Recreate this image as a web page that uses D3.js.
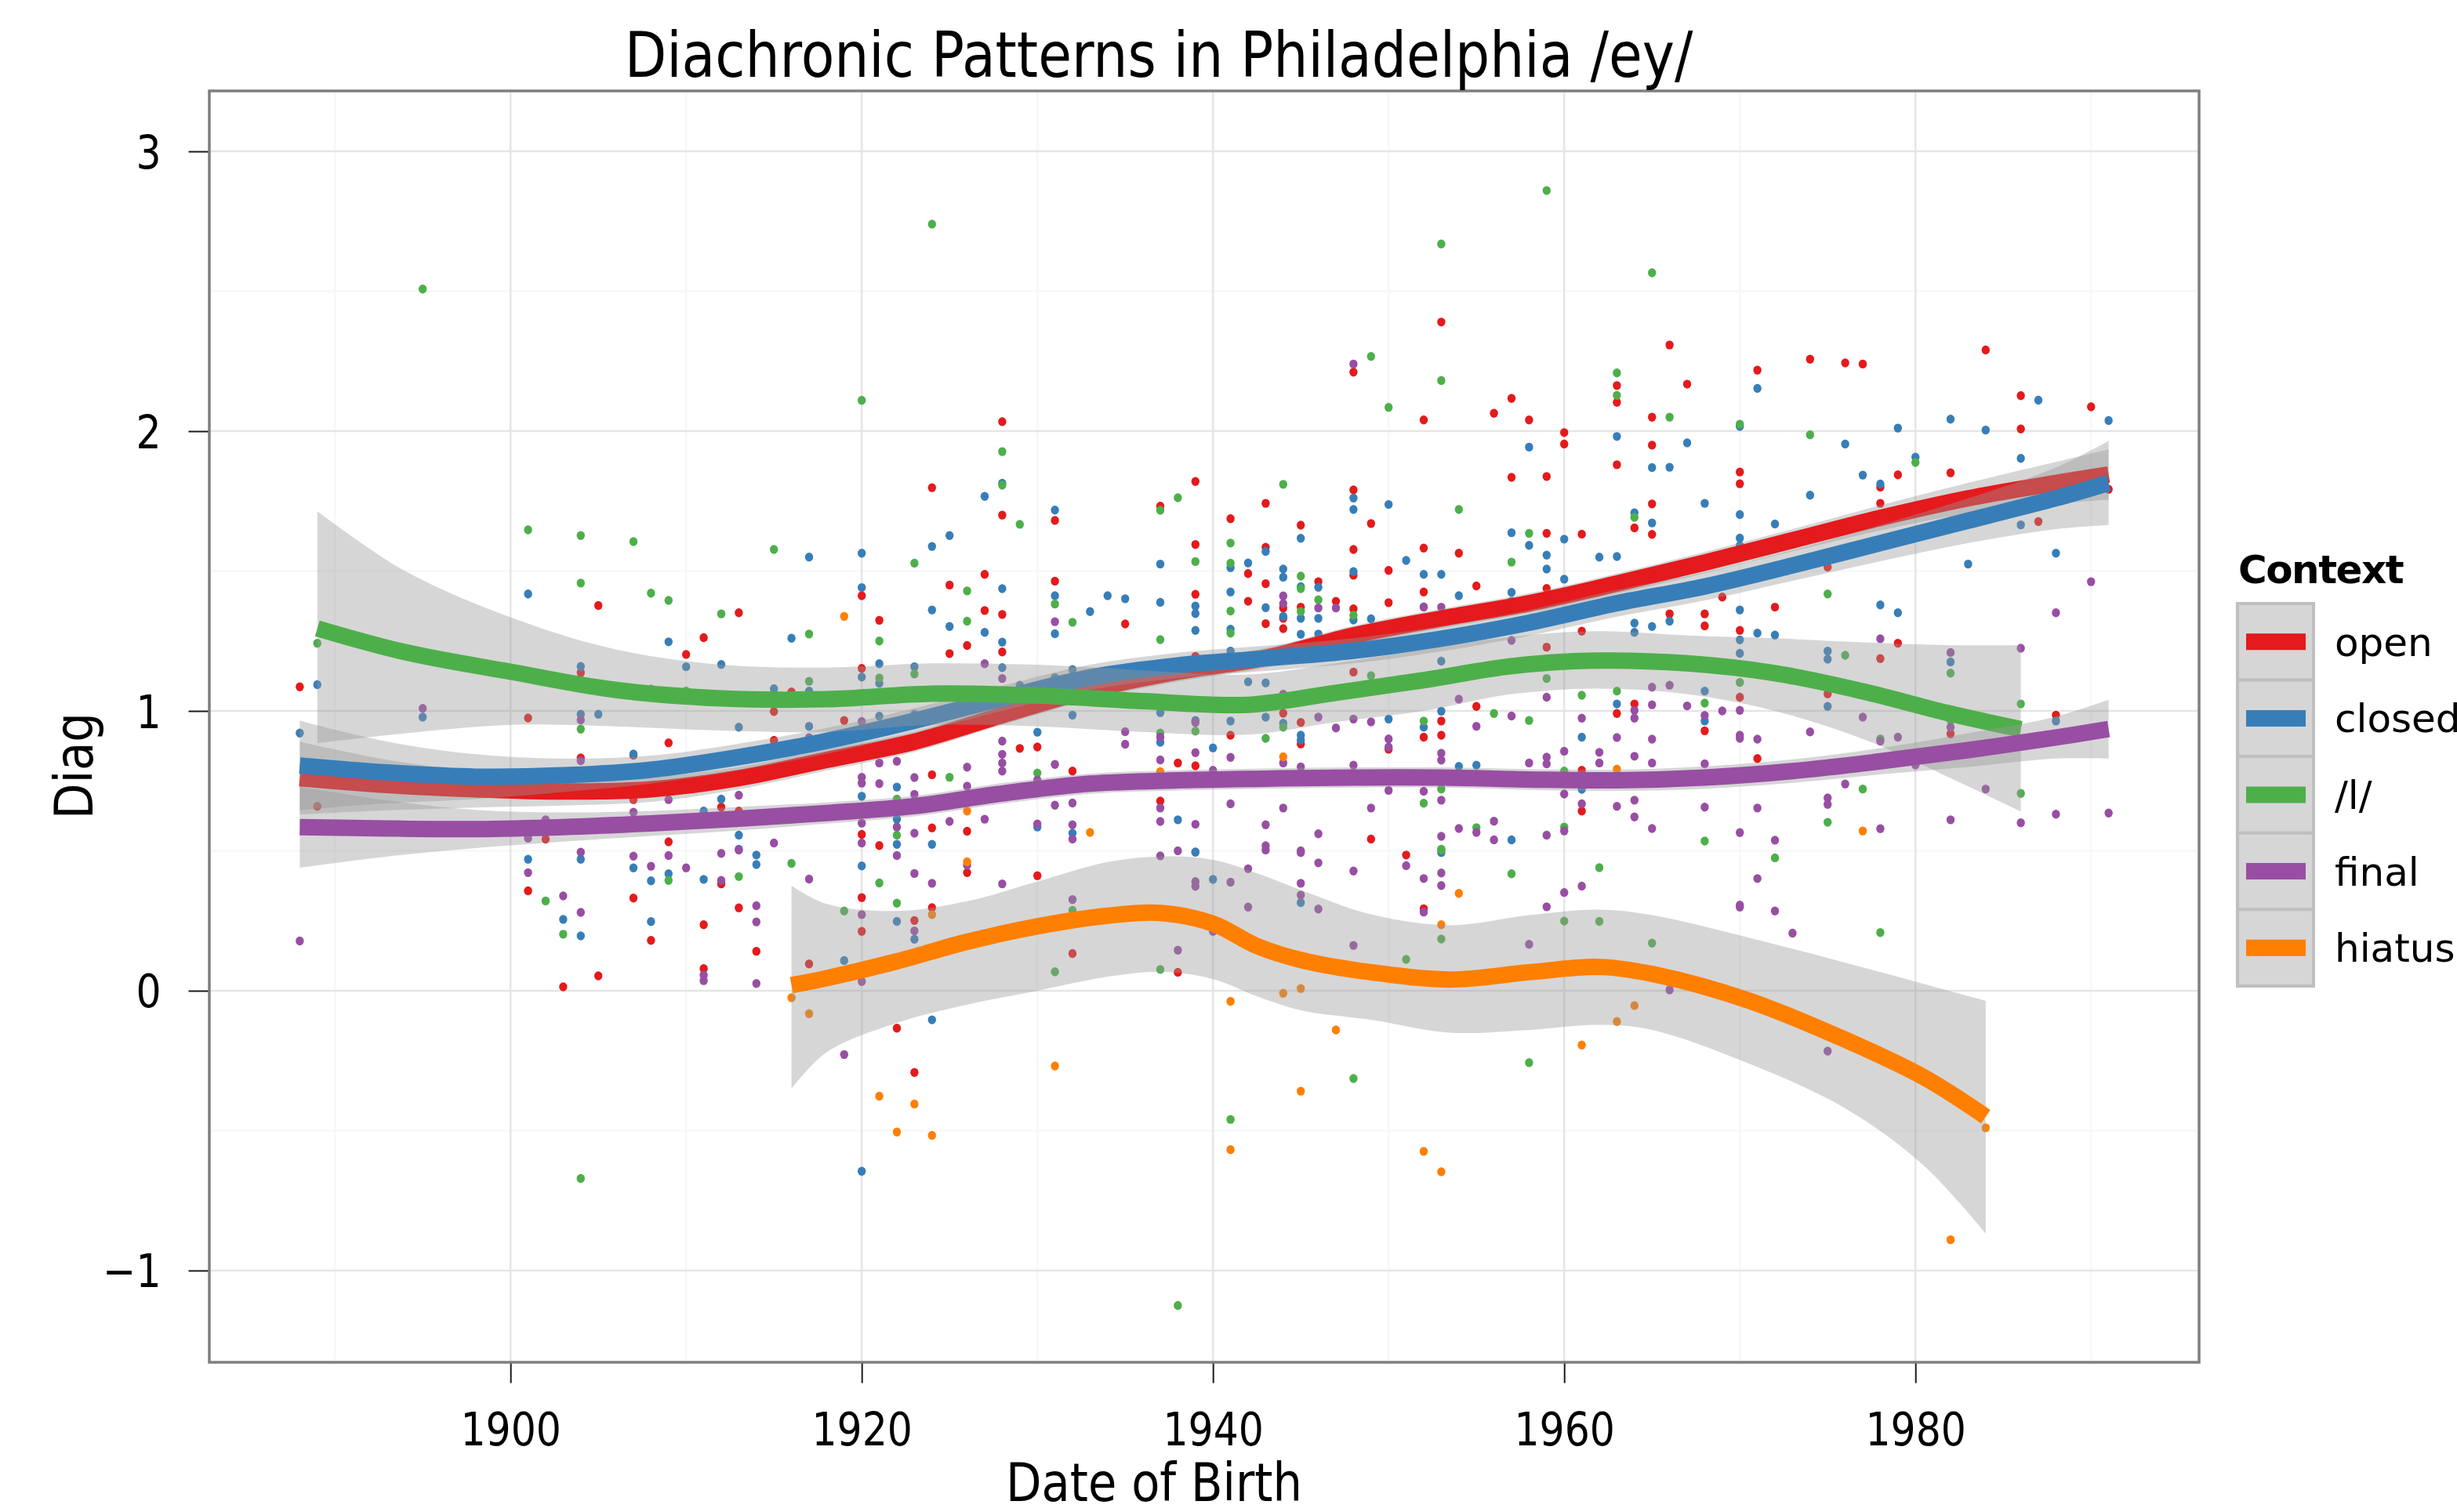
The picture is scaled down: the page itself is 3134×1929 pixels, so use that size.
<!DOCTYPE html>
<html><head><meta charset="utf-8">
<script src="https://cdn.jsdelivr.net/npm/d3@7"></script>
<style>body{margin:0;background:#fff} svg{display:block}</style>
</head><body>
<svg id="c" width="3134" height="1929"></svg>
<script>
// ---------------- DATA ----------------
const contexts = ["open", "closed", "/l/", "final", "hiatus"];
const colors = ["#E41A1C", "#377EB8", "#4DAF4A", "#984EA3", "#FF7F00"];
const xTicks = [1900, 1920, 1940, 1960, 1980];
const yTicks = [-1, 0, 1, 2, 3];
const titleText = "Diachronic Patterns in Philadelphia /ey/";
const xTitle = "Date of Birth";
const yTitle = "Diag";
const legendTitle = "Context";

// points: [year, [values...]]
const pointsOpen = [[1888,[1.086]],[1889,[0.659]],[1901,[0.975,0.357]],[1902,[0.542]],[1903,[0.014]],[1904,[1.137,0.832]],[1905,[1.377,0.053]],[1907,[0.842,0.683,0.331]],[1908,[0.18]],[1909,[0.886,0.532]],[1910,[1.202]],[1911,[1.262,0.236,0.079]],[1912,[0.656,0.382]],[1913,[1.351,0.642,0.296]],[1914,[0.141]],[1915,[0.998,0.895]],[1916,[1.068]],[1917,[0.096]],[1919,[0.966]],[1920,[1.412,1.152,0.559,0.333,0.212]],[1921,[1.324,0.519]],[1922,[0.885,-0.134]],[1923,[0.251,-0.292]],[1924,[1.798,0.772,0.582,0.297]],[1925,[1.45,1.205]],[1926,[1.234,0.57,0.422]],[1927,[1.488,1.359]],[1928,[2.034,1.70,1.345,1.211]],[1929,[0.866]],[1930,[0.871,0.411]],[1931,[1.681,1.464]],[1932,[0.785,0.133]],[1935,[1.311]],[1937,[1.732,0.678]],[1938,[0.814,0.066]],[1939,[1.82,1.595,1.417,1.195,0.804]],[1941,[1.687,0.913]],[1942,[1.491,1.392]],[1943,[1.742,1.585,1.455,1.312]],[1944,[1.368,1.331,1.294,0.992]],[1945,[1.664,1.371,0.959,0.882]],[1946,[1.462]],[1947,[1.392]],[1948,[2.211,1.79,1.577,1.485,1.365,1.139]],[1949,[1.67,0.542]],[1950,[1.502,1.387,0.863]],[1951,[1.317,0.485]],[1952,[2.04,1.582,1.425,0.906,0.293]],[1953,[2.39,0.964,0.913]],[1954,[1.564]],[1955,[1.447,1.016]],[1956,[2.064]],[1957,[2.117,1.835]],[1958,[2.04]],[1959,[1.838,1.635,1.438,1.228]],[1960,[1.995,1.954]],[1961,[1.632,1.285,0.788,0.642]],[1963,[2.163,2.103,1.88,0.991]],[1964,[1.654,1.025]],[1965,[2.05,1.95,1.74,1.631]],[1966,[2.308,1.347]],[1967,[2.168]],[1968,[1.347,1.304,0.929]],[1969,[1.407]],[1970,[1.854,1.812,1.288,1.049]],[1971,[2.218,0.83]],[1972,[1.371]],[1974,[2.257]],[1975,[1.514,1.061]],[1976,[2.244]],[1977,[2.24]],[1978,[1.8,1.742,1.187]],[1979,[1.844,1.242]],[1982,[1.851,0.918]],[1984,[2.29]],[1986,[2.127,2.008]],[1987,[1.677]],[1988,[0.985]],[1990,[2.087]],[1991,[1.792]]];
const pointsClosed = [[1888,[0.921]],[1889,[1.094]],[1895,[0.978]],[1901,[1.418,0.47]],[1903,[0.255]],[1904,[1.159,0.988,0.47,0.196]],[1905,[0.988]],[1907,[0.846,0.439]],[1908,[0.393,0.247]],[1909,[1.247,0.418]],[1910,[1.158]],[1911,[0.642,0.398]],[1912,[1.166,0.685]],[1913,[0.942,0.556,0.506]],[1914,[0.485,0.451]],[1915,[1.079]],[1916,[1.26]],[1917,[1.55,1.071,0.945]],[1919,[0.108]],[1920,[1.564,1.441,1.121,0.695,0.446,-0.645]],[1921,[1.169,1.099,0.981]],[1922,[0.728,0.613,0.523,0.248]],[1923,[1.158,0.988,0.184]],[1924,[1.588,1.361,0.523,-0.104]],[1925,[1.627,1.302]],[1927,[1.767,1.281]],[1928,[1.814,1.437,1.246,1.155]],[1929,[1.092]],[1930,[0.924,0.585]],[1931,[1.718,1.412,1.276,1.119]],[1932,[1.148,0.985,0.563]],[1933,[1.355]],[1934,[1.412]],[1935,[1.401]],[1937,[1.525,1.388,0.994,0.888]],[1938,[0.611]],[1939,[1.375,1.348,1.288,0.966,0.496,0.495]],[1940,[0.868,0.398]],[1941,[1.512,1.425,1.292,1.214,0.964]],[1942,[1.529,1.104]],[1943,[1.57,1.369,1.1,0.978]],[1944,[1.507,1.478,1.338,0.956]],[1945,[1.617,1.444,1.331,1.274,0.913,0.896,0.315]],[1946,[1.442,1.331,1.275]],[1948,[1.761,1.72,1.498,1.325,1.284]],[1949,[1.329]],[1950,[1.738,0.971]],[1951,[1.538]],[1952,[1.488,0.942]],[1953,[1.488,1.178,0.999,0.494]],[1954,[1.412,0.802]],[1955,[0.806]],[1957,[1.637,1.424,1.392,0.539]],[1958,[1.943,1.592]],[1959,[1.557,1.507]],[1960,[1.614,1.471]],[1961,[0.906,0.72]],[1962,[1.55]],[1963,[1.981,1.552,1.025]],[1964,[1.708,1.314,1.281]],[1965,[1.87,1.672,1.302]],[1966,[1.871,1.321]],[1967,[1.958]],[1968,[1.742,1.071,0.964]],[1970,[2.017,1.702,1.618,1.591,1.361,1.254,1.206]],[1971,[2.153,1.278]],[1972,[1.668,1.271]],[1974,[1.771]],[1975,[1.214,1.185,1.016]],[1976,[1.954]],[1977,[1.843]],[1978,[1.811,1.691,1.379]],[1979,[2.011,1.351]],[1980,[1.907]],[1982,[2.043,1.175]],[1983,[1.525]],[1984,[2.004]],[1986,[1.903,1.665]],[1987,[2.111]],[1988,[1.564,0.964]],[1991,[2.038]]];
const pointsL = [[1889,[1.242]],[1895,[2.508]],[1901,[1.647]],[1902,[0.321]],[1903,[0.202]],[1904,[1.627,1.457,0.935,-0.671]],[1907,[1.605]],[1908,[1.421]],[1909,[1.395,0.394]],[1910,[1.071]],[1912,[1.347]],[1913,[0.408]],[1915,[1.577]],[1916,[0.455]],[1917,[1.275,1.106]],[1919,[0.285]],[1920,[2.11]],[1921,[1.25,1.118,0.385]],[1922,[0.685,0.556,0.313]],[1923,[1.528,1.132]],[1924,[2.74]],[1925,[0.763]],[1926,[1.429,1.321]],[1928,[1.927,1.807]],[1929,[1.667]],[1930,[0.778]],[1931,[1.382,0.068]],[1932,[1.317,0.287]],[1937,[1.717,1.255,0.921,0.076]],[1938,[1.762,-1.125]],[1939,[1.534,0.928]],[1941,[1.6,1.528,1.357,1.278,-0.46]],[1943,[0.902]],[1944,[1.81,0.942]],[1945,[1.482,1.437,1.355]],[1946,[1.397]],[1948,[1.342,-0.314]],[1949,[2.267,1.126]],[1950,[2.085]],[1951,[0.112]],[1952,[1.372,0.964,0.67]],[1953,[2.669,2.181,0.721,0.506,0.503,0.185]],[1954,[1.72]],[1955,[0.583]],[1956,[0.991]],[1957,[1.532,0.418]],[1958,[1.635,0.966,-0.257]],[1959,[2.86,1.116]],[1960,[0.785,0.585,0.249]],[1961,[1.056]],[1962,[0.44,0.248]],[1963,[2.208,2.128,1.071]],[1964,[1.692]],[1965,[2.566,0.17]],[1966,[2.05]],[1968,[1.028,0.535]],[1970,[2.025,1.102]],[1972,[0.475]],[1974,[1.987]],[1975,[1.418,0.602]],[1976,[1.199]],[1977,[0.721]],[1978,[0.9,0.208]],[1980,[1.888]],[1982,[1.135,0.966]],[1986,[1.025,0.705]]];
const pointsFinal = [[1888,[0.178]],[1895,[1.009]],[1901,[0.545,0.422]],[1902,[0.611]],[1903,[0.339]],[1904,[0.968,0.822,0.495,0.28]],[1907,[0.638,0.481]],[1908,[1.078,0.445]],[1909,[0.683,0.483]],[1910,[0.439]],[1911,[0.056,0.036]],[1912,[0.491,0.394]],[1913,[0.699,0.503]],[1914,[0.304,0.246,0.026]],[1915,[0.528]],[1916,[0.878]],[1917,[0.904,0.399]],[1919,[-0.228]],[1920,[0.962,0.763,0.742,0.599,0.528,0.272,0.033]],[1921,[0.814,0.74]],[1922,[0.82,0.642,0.585,0.483]],[1923,[0.762,0.702,0.563,0.419,0.214]],[1924,[0.384]],[1925,[0.605]],[1926,[0.799,0.731,0.449]],[1927,[1.169,0.613]],[1928,[1.116,0.892,0.845,0.814,0.785,0.382]],[1930,[0.753,0.596]],[1931,[1.319,0.809,0.663]],[1932,[0.671,0.593,0.542,0.326]],[1935,[0.926,0.881]],[1937,[0.906,0.825,0.653,0.605,0.482]],[1938,[0.5,0.145]],[1939,[0.959,0.851,0.595,0.39,0.373]],[1940,[0.788,0.212]],[1941,[0.834,0.668,0.388]],[1942,[0.436,0.299]],[1943,[0.593,0.518,0.503]],[1944,[1.411,1.384,1.06,0.814,0.653]],[1945,[0.8,0.5,0.494,0.384,0.342]],[1946,[1.368,0.978,0.561,0.457,0.292]],[1947,[1.368,0.939]],[1948,[2.24,0.971,0.806,0.428,0.162]],[1949,[0.961,0.653]],[1950,[0.9,0.871,0.716]],[1951,[0.447]],[1952,[1.371,0.713,0.401,0.281]],[1953,[1.371,0.849,0.824,0.681,0.552,0.421,0.376]],[1954,[1.042,0.58]],[1955,[0.945,0.566]],[1956,[0.606,0.539]],[1957,[1.252,0.982]],[1958,[0.814,0.166]],[1959,[1.049,0.835,0.811,0.556,0.30]],[1960,[0.856,0.703,0.571,0.351]],[1961,[0.974,0.668,0.374]],[1962,[0.852,0.814]],[1963,[0.905,0.659]],[1964,[1.002,0.974,0.838,0.681,0.621]],[1965,[1.085,1.022,0.899,0.814,0.58]],[1966,[1.092,0.003]],[1967,[1.018]],[1968,[0.984,0.811,0.656]],[1969,[1.0]],[1970,[1.002,0.913,0.902,0.565,0.306,0.299]],[1971,[0.899,0.653,0.401]],[1972,[0.538,0.285]],[1973,[0.206]],[1974,[0.925]],[1975,[0.689,0.666,-0.216]],[1976,[0.739]],[1977,[0.978]],[1978,[1.258,0.892,0.579]],[1979,[0.906]],[1980,[0.807]],[1982,[1.209,0.942,0.611]],[1984,[0.721]],[1986,[1.224,0.6]],[1988,[1.351,0.631]],[1990,[1.462]],[1991,[0.635]]];
const pointsHiatus = [[1916,[-0.025]],[1917,[-0.082]],[1919,[1.338]],[1921,[-0.377]],[1922,[-0.505]],[1923,[-0.405]],[1924,[0.272,-0.517]],[1926,[0.642,0.461]],[1931,[-0.269]],[1933,[0.566]],[1937,[0.783]],[1941,[-0.038,-0.568]],[1944,[0.836,-0.009]],[1945,[0.008,-0.359]],[1947,[-0.14]],[1952,[-0.574]],[1953,[0.236,-0.647]],[1954,[0.348]],[1961,[-0.194]],[1963,[0.792,-0.11]],[1964,[-0.053]],[1977,[0.571]],[1982,[-0.89]],[1984,[-0.49]]];

// smooth fits (loess)
const openYears  = [1888,1893,1898,1903,1908,1913,1918,1923,1928,1933,1938,1943,1948,1953,1958,1963,1968,1973,1978,1983,1988,1991];
const openFit    = [0.76,0.735,0.72,0.712,0.72,0.76,0.825,0.89,0.985,1.075,1.14,1.19,1.27,1.33,1.385,1.455,1.53,1.61,1.69,1.76,1.815,1.845];
const openLo     = [0.63,0.645,0.655,0.662,0.675,0.72,0.787,0.854,0.95,1.04,1.105,1.155,1.235,1.295,1.35,1.419,1.492,1.57,1.645,1.705,1.74,1.755];
const openHi     = [0.89,0.825,0.785,0.762,0.765,0.80,0.863,0.926,1.02,1.11,1.175,1.225,1.305,1.365,1.42,1.491,1.568,1.65,1.735,1.815,1.89,1.935];
const closedYears= [1888,1893,1898,1903,1908,1913,1918,1923,1928,1933,1938,1943,1948,1953,1958,1963,1968,1973,1978,1983,1988,1991];
const closedFit  = [0.805,0.78,0.765,0.77,0.79,0.835,0.893,0.965,1.045,1.12,1.163,1.188,1.215,1.258,1.315,1.385,1.445,1.52,1.60,1.68,1.76,1.815];
const closedLo   = [0.645,0.67,0.685,0.71,0.74,0.787,0.847,0.92,1.0,1.075,1.118,1.143,1.17,1.213,1.269,1.337,1.395,1.465,1.535,1.6,1.65,1.665];
const closedHi   = [0.965,0.89,0.845,0.83,0.84,0.883,0.939,1.01,1.09,1.165,1.208,1.233,1.26,1.303,1.361,1.433,1.495,1.575,1.665,1.76,1.87,1.965];
const lYears     = [1889,1894,1900,1906,1912,1918,1924,1930,1936,1942,1947,1952,1957,1962,1967,1972,1977,1982,1986];
const lFit       = [1.295,1.21,1.14,1.075,1.045,1.042,1.062,1.055,1.035,1.022,1.065,1.11,1.16,1.18,1.17,1.135,1.07,0.99,0.935];
const lLo        = [0.885,0.92,0.95,0.945,0.93,0.925,0.95,0.945,0.925,0.915,0.96,1.0,1.06,1.08,1.06,1.0,0.9,0.76,0.64];
const lHi        = [1.714,1.50,1.335,1.22,1.165,1.155,1.17,1.165,1.145,1.13,1.17,1.22,1.265,1.285,1.27,1.26,1.245,1.235,1.235];
const finalYears = [1888,1893,1898,1903,1908,1913,1918,1923,1928,1933,1938,1943,1948,1953,1958,1963,1968,1973,1978,1983,1988,1991];
const finalFit   = [0.585,0.58,0.578,0.585,0.598,0.615,0.635,0.66,0.705,0.74,0.752,0.758,0.762,0.762,0.755,0.752,0.762,0.785,0.82,0.86,0.905,0.935];
const finalLo    = [0.44,0.48,0.51,0.533,0.553,0.573,0.597,0.623,0.668,0.704,0.716,0.722,0.726,0.726,0.718,0.714,0.722,0.743,0.773,0.8,0.83,0.83];
const finalHi    = [0.73,0.68,0.646,0.637,0.643,0.657,0.673,0.697,0.742,0.776,0.788,0.794,0.798,0.798,0.792,0.79,0.802,0.827,0.867,0.92,0.98,1.04];
const hiatusYears= [1916,1918,1922,1926,1930,1934,1937,1940,1942.5,1945,1949,1953.5,1958,1962,1965,1970.5,1976,1980.5,1984];
const hiatusFit  = [0.02,0.045,0.105,0.175,0.23,0.268,0.278,0.24,0.16,0.11,0.066,0.04,0.066,0.085,0.06,-0.035,-0.175,-0.31,-0.45];
const hiatusLo   = [-0.35,-0.22,-0.115,-0.05,0.0,0.05,0.068,0.042,-0.02,-0.07,-0.104,-0.15,-0.14,-0.122,-0.14,-0.26,-0.42,-0.626,-0.868];
const hiatusHi   = [0.375,0.31,0.285,0.32,0.39,0.46,0.48,0.468,0.42,0.36,0.273,0.234,0.27,0.29,0.27,0.19,0.10,0.024,-0.036];

// ---------------- BUILD ----------------
const pointSets = [pointsOpen, pointsClosed, pointsL, pointsFinal, pointsHiatus];
const smoothSets = [
  [openYears, openFit, openLo, openHi],
  [closedYears, closedFit, closedLo, closedHi],
  [lYears, lFit, lLo, lHi],
  [finalYears, finalFit, finalLo, finalHi],
  [hiatusYears, hiatusFit, hiatusLo, hiatusHi]
];

const FONT = "DejaVu Sans";
const SX = 0.87; // horizontal compression of the plot's text face
const P = {left: 267, right: 2805, top: 116, bottom: 1738};

const x = d3.scaleLinear().domain([1882.85, 1996.15]).range([P.left, P.right]);
const y = d3.scaleLinear().domain([-1.328, 3.216]).range([P.bottom, P.top]);

const svg = d3.select("#c");
svg.append("rect").attr("width", 3134).attr("height", 1929).attr("fill", "#fff");

svg.append("defs").append("clipPath").attr("id", "clip")
  .append("rect").attr("x", P.left).attr("y", P.top)
  .attr("width", P.right - P.left).attr("height", P.bottom - P.top);

// grid
const grid = svg.append("g");
const xMinor = d3.range(1890, 1996, 20);
const yMinor = [-0.5, 0.5, 1.5, 2.5];
grid.selectAll(".xm").data(xMinor).join("line")
  .attr("x1", d => x(d)).attr("x2", d => x(d)).attr("y1", P.top).attr("y2", P.bottom)
  .attr("stroke", "#f7f7f7").attr("stroke-width", 2.5);
grid.selectAll(".ym").data(yMinor).join("line")
  .attr("y1", d => y(d)).attr("y2", d => y(d)).attr("x1", P.left).attr("x2", P.right)
  .attr("stroke", "#f7f7f7").attr("stroke-width", 2.5);
grid.selectAll(".xM").data(xTicks).join("line")
  .attr("x1", d => x(d)).attr("x2", d => x(d)).attr("y1", P.top).attr("y2", P.bottom)
  .attr("stroke", "#e5e5e5").attr("stroke-width", 2.5);
grid.selectAll(".yM").data(yTicks).join("line")
  .attr("y1", d => y(d)).attr("y2", d => y(d)).attr("x1", P.left).attr("x2", P.right)
  .attr("stroke", "#e5e5e5").attr("stroke-width", 2.5);

const plot = svg.append("g").attr("clip-path", "url(#clip)");

// points
pointSets.forEach((set, i) => {
  const pts = [];
  set.forEach(([yr, vals]) => vals.forEach(v => pts.push([yr, v])));
  plot.append("g").selectAll("ellipse").data(pts).join("ellipse")
    .attr("cx", d => x(d[0])).attr("cy", d => y(d[1]))
    .attr("rx", 5.2).attr("ry", 5.7)
    .attr("fill", colors[i]);
});

// smooths: ribbon then line per group
const curve = d3.curveCatmullRom.alpha(0.5);
smoothSets.forEach(([yrs, fit, lo, hi], i) => {
  const rows = yrs.map((yr, k) => ({yr, fit: fit[k], lo: lo[k], hi: hi[k]}));
  plot.append("path").datum(rows)
    .attr("d", d3.area().x(d => x(d.yr)).y0(d => y(d.lo)).y1(d => y(d.hi)).curve(curve))
    .attr("fill", "#999999").attr("fill-opacity", 0.4);
  plot.append("path").datum(rows)
    .attr("d", d3.line().x(d => x(d.yr)).y(d => y(d.fit)).curve(curve))
    .attr("fill", "none").attr("stroke", colors[i]).attr("stroke-width", 21)
    .attr("stroke-linecap", "butt").attr("stroke-linejoin", "round");
});

// panel border
svg.append("rect").attr("x", P.left).attr("y", P.top)
  .attr("width", P.right - P.left).attr("height", P.bottom - P.top)
  .attr("fill", "none").attr("stroke", "#7f7f7f").attr("stroke-width", 3.5);

// axes
const xAxis = svg.append("g").attr("transform", `translate(0,${P.bottom + 1.5})`)
  .call(d3.axisBottom(x).tickValues(xTicks).tickSize(25).tickFormat(d3.format("d")));
xAxis.select(".domain").remove();
xAxis.selectAll(".tick line").attr("stroke", "#1a1a1a").attr("stroke-width", 2);
xAxis.selectAll(".tick text").attr("y", 105).attr("dy", 0)
  .attr("transform", `scale(${SX},1)`)
  .attr("font-family", FONT).attr("font-size", 58).attr("fill", "#000");

const yAxis = svg.append("g").attr("transform", `translate(${P.left - 1.5},0)`)
  .call(d3.axisLeft(y).tickValues(yTicks).tickSize(25)
    .tickFormat(d => d < 0 ? "\u2212" + Math.abs(d) : String(d)));
yAxis.select(".domain").remove();
yAxis.selectAll(".tick line").attr("stroke", "#1a1a1a").attr("stroke-width", 2);
yAxis.selectAll(".tick text").attr("x", -60 / SX).attr("dy", 21)
  .attr("transform", `scale(${SX},1)`)
  .attr("font-family", FONT).attr("font-size", 58).attr("fill", "#000");

// titles
svg.append("text").attr("transform", `translate(1478,98) scale(${SX},1)`)
  .attr("text-anchor", "middle").attr("font-family", FONT).attr("font-size", 80)
  .text(titleText);
svg.append("text").attr("transform", `translate(1472,1915) scale(${SX},1)`)
  .attr("text-anchor", "middle").attr("font-family", FONT).attr("font-size", 68)
  .text(xTitle);
svg.append("text").attr("transform", `translate(118,977) rotate(-90) scale(${SX},1)`)
  .attr("text-anchor", "middle").attr("font-family", FONT).attr("font-size", 68)
  .text(yTitle);

// legend
const lg = svg.append("g");
lg.append("text").attr("x", 2855).attr("y", 744)
  .attr("font-family", FONT).attr("font-weight", "bold").attr("font-size", 50)
  .attr("letter-spacing", -1.5).text(legendTitle);
const keyTop = 770, keyH = 97.6, keyX = 2854, keyW = 97;
contexts.forEach((c, i) => {
  const ky = keyTop + i * keyH;
  lg.append("rect").attr("x", keyX).attr("y", ky).attr("width", keyW).attr("height", keyH)
    .attr("fill", "#d6d6d6").attr("stroke", "#bfbfbf").attr("stroke-width", 4);
  lg.append("line").attr("x1", keyX + 11).attr("x2", keyX + 87)
    .attr("y1", ky + keyH / 2).attr("y2", ky + keyH / 2)
    .attr("stroke", colors[i]).attr("stroke-width", 21);
  lg.append("text").attr("x", 2978).attr("y", ky + keyH / 2 + 18)
    .attr("font-family", FONT).attr("font-size", 50).text(c);
});
</script>
</body></html>
